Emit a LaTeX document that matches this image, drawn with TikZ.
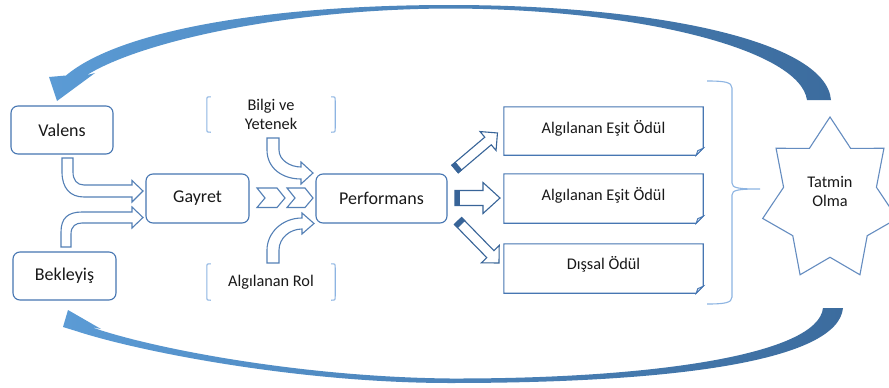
\documentclass[tikz,border=0pt]{standalone}
\usepackage{fontspec}
\setmainfont{Carlito}
\usetikzlibrary{calc}

\definecolor{boxblue}{RGB}{70,118,178}
\definecolor{arrblue}{RGB}{84,128,182}
\definecolor{darkarr}{RGB}{56,100,152}
\definecolor{brkblue}{RGB}{141,180,226}
\definecolor{starblue}{RGB}{100,140,192}
\definecolor{bandlight}{RGB}{91,155,213}
\definecolor{banddark}{RGB}{60,108,158}
\definecolor{inktext}{RGB}{25,25,25}

\tikzset{
  lbl/.style={font=\fontsize{16.3}{19}\selectfont, text=inktext, align=center, inner sep=0pt},
  rbox/.style={lbl, font=\fontsize{18}{21}\selectfont, draw=boxblue, line width=1.1pt,
               rounded corners=7pt, fill=white, minimum width=102pt, minimum height=48pt},
  plainbox/.style={inner sep=0pt, minimum width=#1},
  rewline/.style={draw=boxblue, line width=1.1pt, fill=white},
  foldline/.style={draw=boxblue, line width=0.9pt, fill=brkblue!35},
  brk/.style={draw=brkblue, line width=1.1pt},
  blockarr/.style={draw=arrblue, line width=1.1pt, fill=white, line join=miter},
  rewarr/.style={draw=darkarr, line width=1.1pt, fill=white},
  starline/.style={draw=starblue, line width=1.1pt, fill=white},
  band/.style={left color=bandlight, right color=banddark, draw=none}
}

\begin{document}
\begin{tikzpicture}[x=1pt, y=-1pt]
\useasboundingbox (0,0) rectangle (889,388);
\clip (0,0) rectangle (889,388);
\fill[white] (0,0) rectangle (889,388);

% feedback band from the star back to Valens
\path[band] (57,101) -- (49,77) -- (66,75.5)
  .. controls (120,30) and (270,5) .. (450,5)
  .. controls (650,5) and (826,40) .. (831,100)
  -- (807,100)
  .. controls (800,50) and (640,9) .. (450,8.5)
  .. controls (285,9) and (140,42) .. (87,75)
  -- (95,73) -- cycle;

% feedback band from the star back to Bekleyis
\path[band] (68,310) -- (101,329) -- (91,327)
  .. controls (150,348) and (300,377) .. (450,378.5)
  .. controls (650,379) and (818,355) .. (823,308)
  -- (843,308)
  .. controls (838,360) and (680,383) .. (450,383)
  .. controls (300,383) and (140,352) .. (76,331)
  -- (63,327) -- cycle;

% main boxes
\node[rbox] (valens) at (62,130) {Valens};
\node[rbox, minimum width=103pt] (bekle) at (64.5,276) {Bekleyiş};
\node[rbox, minimum width=103pt, minimum height=49pt] (gayret) at (197.5,198.5) {Gayret};
\node[rbox, minimum width=131pt, minimum height=49pt] (perf) at (381.5,198.5) {Performans};

% bracketed inputs
\node[lbl, plainbox=128pt, minimum height=35pt] (bilgi) at (271,114.5) {Bilgi ve\\Yetenek};
\node[lbl, plainbox=128pt, minimum height=36pt] (rol) at (271,282) {Algılanan Rol};
\foreach \b in {bilgi,rol}{
  \draw[brk] ([xshift=4pt]\b.north west) .. controls (\b.north west) .. ([yshift=-4pt]\b.north west)
    -- ([yshift=4pt]\b.south west) .. controls (\b.south west) .. ([xshift=4pt]\b.south west);
  \draw[brk] ([xshift=-4pt]\b.north east) .. controls (\b.north east) .. ([yshift=-4pt]\b.north east)
    -- ([yshift=4pt]\b.south east) .. controls (\b.south east) .. ([xshift=-4pt]\b.south east);
}

% reward boxes with folded corners
\node[plainbox=199pt, minimum height=48pt] (r1) at (603.5,131) {};
\node[plainbox=199pt, minimum height=49pt] (r2) at (603.5,198.5) {};
\node[plainbox=199pt, minimum height=49pt] (r3) at (603.5,268.5) {};
\foreach \r in {r1,r2,r3}{
  \draw[rewline] (\r.north west) -- (\r.north east) -- ([yshift=7pt]\r.south east)
    -- ([xshift=-7pt]\r.south east) -- (\r.south west) -- cycle;
  \draw[foldline] ([yshift=7pt]\r.south east) -- ([xshift=-5.5pt,yshift=4.5pt]\r.south east)
    -- ([xshift=-7pt]\r.south east) -- cycle;
}
\node[lbl] (r1t) at ($(r1.center)+(0,-3)$) {Algılanan Eşit Ödül};
\node[lbl] (r2t) at ($(r2.center)+(0,-3)$) {Algılanan Eşit Ödül};
\node[lbl] (r3t) at ($(r3.center)+(0,-4)$) {Dışsal Ödül};

% brace gathering the rewards
\draw[brk] (707,81) .. controls (724,81) and (732,82) .. (732,88) -- (732,183)
  .. controls (732,188) and (738,189) .. (760,189)
  .. controls (738,189) and (732,190) .. (732,195) -- (732,297)
  .. controls (732,303) and (724,304) .. (707,304);

% seven-pointed star
\draw[starline] plot[samples at={0,...,13}, variable=\k]
  ({830+69*(1-0.31*mod(\k,2))*cos(90+\k*180/7)}, {200-83*(1-0.31*mod(\k,2))*sin(90+\k*180/7)}) -- cycle;
\node[lbl] (tatmin) at (830,191) {Tatmin\\Olma};

% bent arrows into Gayret
\draw[blockarr] (62,158) -- (62,172) .. controls (62,188) and (70,197) .. (84,197) -- (132,197)
  -- (132,202) -- (143,191) -- (132,180.5) -- (132,185) -- (84,185)
  .. controls (77,185) and (73,180) .. (73,172) -- (73,158) -- cycle;
\draw[blockarr] (61,247) -- (61,232) .. controls (61,218) and (68,212) .. (82,212) -- (132,212)
  -- (132,207) -- (143,217.5) -- (132,228) -- (132,223) -- (82,223)
  .. controls (76,223) and (71,226) .. (71,234) -- (71,247) -- cycle;

% chevrons from Gayret to Performans
\draw[blockarr] (257,188) -- (277,188) -- (285,198) -- (277,207.5) -- (257,207.5) -- (265,198) -- cycle;
\draw[blockarr] (287,188) -- (305,188) -- (313,198) -- (305,207.5) -- (287,207.5) -- (295,198) -- cycle;

% curved arrows into Performans
\draw[blockarr] (267,138) -- (267,150) .. controls (267,168) and (282,179) .. (301,179)
  -- (301,184) -- (313,173) -- (301,162) -- (301,167)
  .. controls (290,167) and (279,160) .. (279,150) -- (279,138) -- cycle;
\draw[blockarr] (267,263) -- (267,250) .. controls (267,233) and (282,218) .. (302,218)
  -- (302,213) -- (314,223.5) -- (302,234) -- (302,229)
  .. controls (290,229) and (279,238) .. (279,250) -- (279,263) -- cycle;

% arrows from Performans to the rewards
\begin{scope}[shift={(455,169)}, rotate=40.3]
  \draw[rewarr] (0,-5) -- (43.3,-5) -- (43.3,-12.4) -- (55.7,0) -- (43.3,12.4) -- (43.3,5) -- (0,5) -- cycle;
  \filldraw[draw=darkarr, fill=darkarr, line width=0.8pt] (0,-5) rectangle (4.5,5);
\end{scope}
\begin{scope}[shift={(455,198)}]
  \draw[rewarr] (0,-7.5) -- (28,-7.5) -- (28,-15.5) -- (45,0) -- (28,15.5) -- (28,7.5) -- (0,7.5) -- cycle;
  \filldraw[draw=darkarr, fill=darkarr, line width=0.8pt] (0,-7.5) rectangle (4.5,7.5);
\end{scope}
\begin{scope}[shift={(458,221)}, rotate=-45.7]
  \draw[rewarr] (0,-5) -- (46.3,-5) -- (46.3,-12.4) -- (58.7,0) -- (46.3,12.4) -- (46.3,5) -- (0,5) -- cycle;
  \filldraw[draw=darkarr, fill=darkarr, line width=0.8pt] (0,-5) rectangle (4.5,5);
\end{scope}
\end{tikzpicture}
\end{document}
